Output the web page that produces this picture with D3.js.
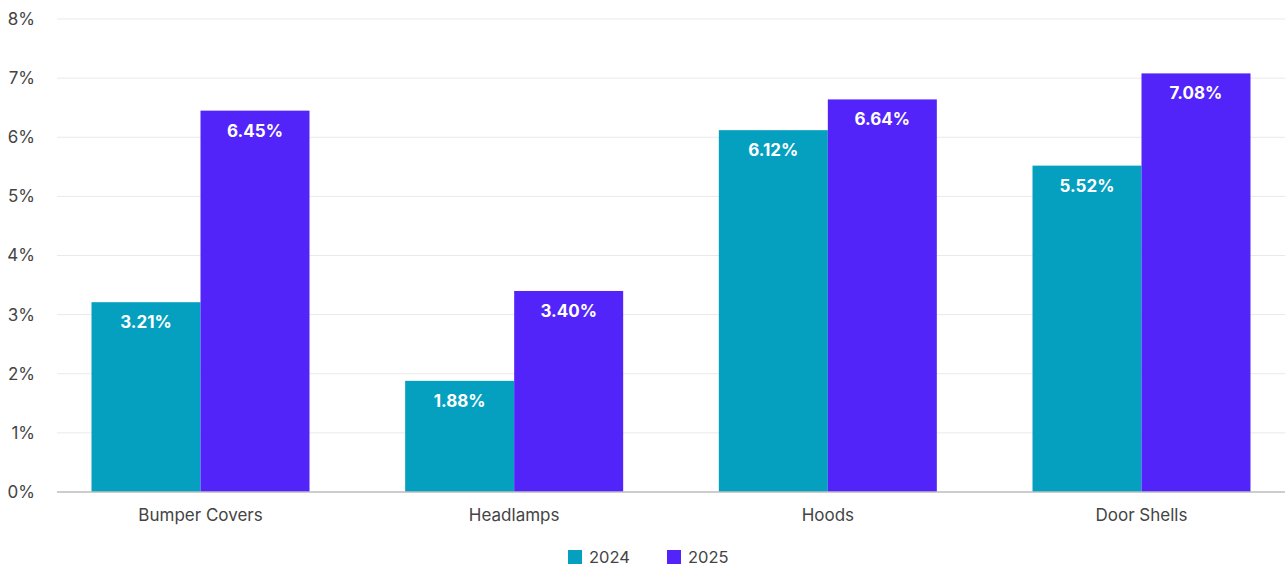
<!doctype html>
<html>
<head>
    <style>
        body { margin: 0; background: #fff; }
        text { font-family: Inter, "Open Sans", sans-serif; }
    </style>
    <script src="https://d3js.org/d3.v7.min.js"></script>
</head>
<body>
<svg width="1285" height="566"></svg>
<script>
    var categories = ["Bumper Covers", "Headlamps", "Hoods", "Door Shells"];
    var years = ["2024", "2025"];
    var values2024 = [3.21, 1.88, 6.12, 5.52];
    var values2025 = [6.45, 3.40, 6.64, 7.08];
    var yTicks = [0, 1, 2, 3, 4, 5, 6, 7, 8];
    var colors = ["#05a0bf", "#5224fa"];

    var svg = d3.select("svg"),
        plotLeft = 57, plotRight = 1285, plotTop = 19, plotBottom = 492;

    var data = categories.map(function(c, i) {
        return { cat: c, vals: [values2024[i], values2025[i]] };
    });

    var x = d3.scaleBand().domain(categories).range([plotLeft, plotRight])
        .paddingInner(0.305).paddingOuter(0.11);
    var x1 = d3.scaleBand().domain(years).range([0, x.bandwidth()]);
    var y = d3.scaleLinear().domain([0, 8]).range([plotBottom, plotTop]);

    // gridlines
    svg.append("g").selectAll("line")
        .data(yTicks.slice(1))
        .enter().append("line")
        .attr("x1", plotLeft).attr("x2", plotRight)
        .attr("y1", function(d) { return y(d); })
        .attr("y2", function(d) { return y(d); })
        .attr("stroke", "#e9e9e9").attr("stroke-width", 1);

    // y axis labels
    svg.append("g").selectAll("text")
        .data(yTicks)
        .enter().append("text")
        .attr("x", 35)
        .attr("y", function(d) { return y(d); })
        .attr("dy", "0.35em")
        .attr("text-anchor", "end")
        .attr("font-size", "17px")
        .attr("fill", "#444")
        .text(function(d) { return d + "%"; });

    // bars
    var groups = svg.append("g").selectAll("g")
        .data(data)
        .enter().append("g")
        .attr("transform", function(d) { return "translate(" + x(d.cat) + ",0)"; });

    groups.selectAll("rect")
        .data(function(d) { return d.vals.map(function(v, i) { return { year: years[i], v: v, i: i }; }); })
        .enter().append("rect")
        .attr("x", function(d) { return x1(d.year); })
        .attr("y", function(d) { return y(d.v); })
        .attr("width", x1.bandwidth())
        .attr("height", function(d) { return plotBottom - y(d.v); })
        .attr("fill", function(d) { return colors[d.i]; });

    groups.selectAll("text")
        .data(function(d) { return d.vals.map(function(v, i) { return { year: years[i], v: v }; }); })
        .enter().append("text")
        .attr("x", function(d) { return x1(d.year) + x1.bandwidth() / 2; })
        .attr("y", function(d) { return y(d.v) + 26; })
        .attr("text-anchor", "middle")
        .attr("font-size", "17px")
        .attr("font-weight", "700")
        .attr("fill", "#fff")
        .text(function(d) { return d.v.toFixed(2) + "%"; });

    // baseline
    svg.append("line")
        .attr("x1", plotLeft).attr("x2", plotRight)
        .attr("y1", plotBottom).attr("y2", plotBottom)
        .attr("stroke", "#bdbdbd").attr("stroke-width", 1.5);

    // x labels
    svg.append("g").selectAll("text")
        .data(categories)
        .enter().append("text")
        .attr("x", function(d) { return x(d) + x.bandwidth() / 2; })
        .attr("y", 521)
        .attr("text-anchor", "middle")
        .attr("font-size", "17px")
        .attr("fill", "#444")
        .text(function(d) { return d; });

    // legend
    var legend = svg.append("g").selectAll("g")
        .data(years)
        .enter().append("g")
        .attr("transform", function(d, i) { return "translate(" + (568 + i * 99) + ",550)"; });
    legend.append("rect")
        .attr("width", 14).attr("height", 14)
        .attr("fill", function(d, i) { return colors[i]; });
    legend.append("text")
        .attr("x", 21).attr("y", 7)
        .attr("dy", "0.35em")
        .attr("font-size", "16.5px")
        .attr("fill", "#444")
        .text(function(d) { return d; });
</script>
</body>
</html>
